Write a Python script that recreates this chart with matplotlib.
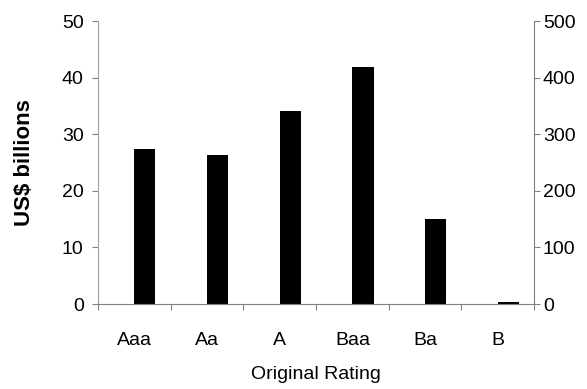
import numpy as np
import matplotlib
matplotlib.use("Agg")
import matplotlib.pyplot as plt

# data
ratings = ["Aaa", "Aa", "A", "Baa", "Ba", "B"]
amounts = [27.4, 26.3, 34.1, 41.9, 15.1, 0.3]   # US$ billions
left_ticks = [0, 10, 20, 30, 40, 50]
right_ticks = [0, 100, 200, 300, 400, 500]

plt.rcParams['font.family'] = ['Liberation Sans', 'DejaVu Sans']

fig = plt.figure(figsize=(5.87, 3.89), dpi=100)
ax = fig.add_axes([0.167, 0.2185, 0.743, 0.7275])

x = np.arange(len(ratings))
ax.bar(x, amounts, width=0.29, align='edge', color='black')

ax.set_xlim(-0.5, len(ratings) - 0.5)
ax.set_ylim(0, 50)
ax.set_yticks(left_ticks)

# category boundaries as major ticks, names as minor labels
ax.set_xticks(np.arange(len(ratings) + 1) - 0.5)
ax.set_xticklabels([])
ax.set_xticks(x, minor=True)
ax.set_xticklabels(ratings, minor=True)
ax.tick_params(axis='x', which='minor', length=0, pad=20, labelsize=14)
ax.tick_params(axis='x', which='major', length=4.5, color='#808080')
ax.tick_params(axis='y', length=4.3, color='#808080', labelsize=14, pad=6)

ax.spines['top'].set_visible(False)
ax.spines['right'].set_visible(False)
ax.spines['left'].set_color('#a0a0a0')
ax.spines['bottom'].set_color('#808080')

ax.set_ylabel('US$ billions', fontsize=16, fontweight='bold', labelpad=19)
ax.set_xlabel('Original Rating', fontsize=14, labelpad=12.5)

ax2 = ax.twinx()
ax2.set_ylim(0, 500)
ax2.set_yticks(right_ticks)
ax2.tick_params(axis='y', length=4.3, color='#808080', labelsize=14, pad=2)
for s in ['top', 'left', 'bottom']:
    ax2.spines[s].set_visible(False)
ax2.spines['right'].set_color('#808080')

fig.savefig('out.png', dpi=100)
